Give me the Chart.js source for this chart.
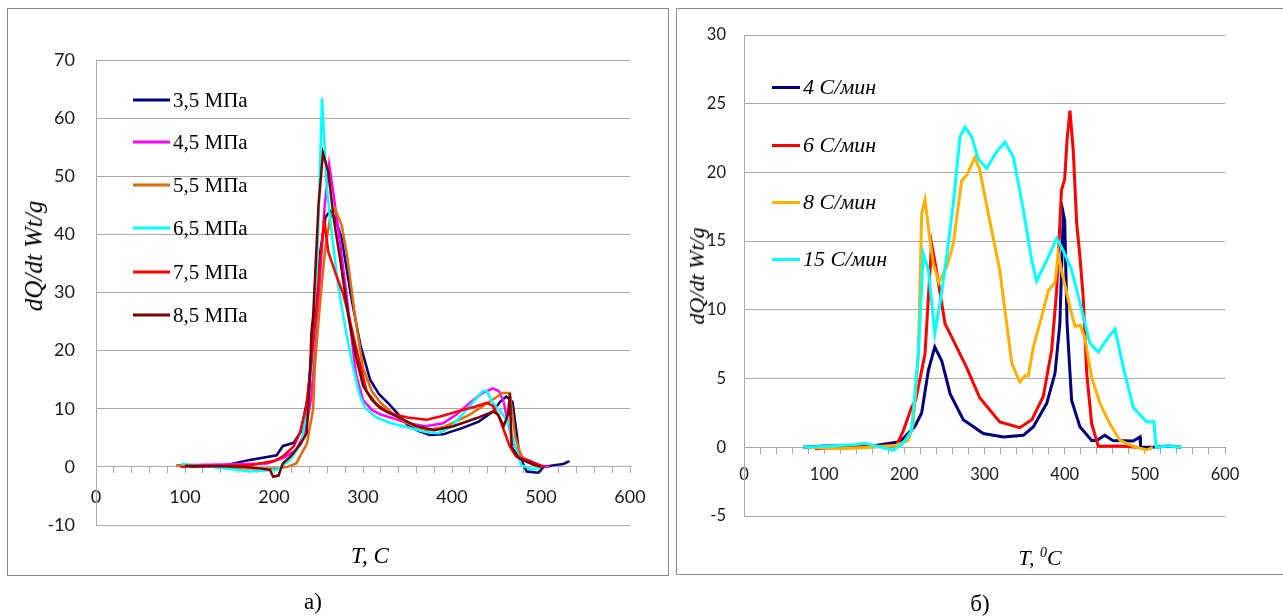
<!DOCTYPE html>
<html>
<head>
<meta charset="utf-8">
<script src="https://cdn.jsdelivr.net/npm/chart.js@4/dist/chart.umd.min.js"></script>
<style>
  body { margin: 0; background: #fff; width: 1283px; height: 616px; overflow: hidden; position: relative; font-family: "Liberation Serif", "Times New Roman", serif; color: #000; }
  .panel { position: absolute; border: 1.5px solid #8c8c8c; box-sizing: border-box; }
  #panelA { left: 7px; top: 8px; width: 662px; height: 568px; }
  #panelB { left: 676px; top: 8px; width: 620px; height: 567px; }
  .wrap { position: absolute; top: 0; }
  #wrapA { left: 0; width: 672px; height: 616px; }
  #wrapB { left: 672px; width: 611px; height: 616px; }
  .txt { position: absolute; white-space: nowrap; transform: translate(-50%, -50%); }
  .ytitle { transform: translate(-50%, -50%) rotate(-90deg); font-style: italic; }
  .leg { position: absolute; display: flex; align-items: center; white-space: nowrap; transform: translateY(-50%); }
  .leg span.ln { display: inline-block; height: 3px; margin-right: 3px; }
</style>
</head>
<body>
<div class="panel" id="panelA"></div>
<div class="panel" id="panelB"></div>
<div class="wrap" id="wrapA"><canvas id="chartA" width="672" height="616"></canvas></div>
<div class="wrap" id="wrapB"><canvas id="chartB" width="611" height="616"></canvas></div>

<div class="txt ytitle" style="left:34px; top:256px; font-size:25px;">dQ/dt Wt/g</div>
<div class="txt" style="left:370px; top:556px; font-size:23px; font-style:italic;">T, C</div>
<div class="txt ytitle" style="left:697px; top:276px; font-size:22px;">dQ/dt Wt/g</div>
<div class="txt" style="left:1040px; top:558px; font-size:22px; font-style:italic;">T, <sup style="font-size:14px;">0</sup>C</div>
<div class="txt" style="left:313px; top:602px; font-size:23px;">а)</div>
<div class="txt" style="left:980px; top:604px; font-size:23px;">б)</div>
<div id="legA"></div>
<div id="legB"></div>

<script>
// ---- chart a) : pressure series
const labelsA = ['3,5 МПа', '4,5 МПа', '5,5 МПа', '6,5 МПа', '7,5 МПа', '8,5 МПа'];
const colorsA = ['#000080', '#FF00FF', '#E36C09', '#00FFFF', '#FF0000', '#7F0000'];

const t35 = [105,143,173,203,210,222,230,238,245,252,258,263,268,276,287,297,308,318,328,340,350,362,375,390,412,430,446,454,461,468,476,484,497,503,515,525,532];
const q35 = [0,0.2,1.2,2,3.6,4.1,6,12,25,37,43,44,43,39.4,29,21,15,12.5,11,9,7.2,6.2,5.5,5.6,6.7,7.8,9.5,11.2,12.1,11.2,1.8,-0.8,-1,0,0.3,0.5,1];
const t45 = [92,143,192,210,225,235,242,249,254,257,262,267,274,282,292,300,310,320,335,350,370,390,405,420,435,446,453,458,463,469,480,500,510];
const q45 = [0.3,0.4,0.6,1.5,2.9,6,12,26,38,45,52,46.8,38.8,29,16,11.5,9.8,9,8.3,7.5,7,7.5,9,11,12.8,13.5,13,11.2,7.5,4,1.5,0.2,0];
const t55 = [90,130,170,200,215,225,237,244,246,250,254,258,263,268.5,276,282,291,300,310,320,335,350,370,390,400,420,440,457,465,471,478,490,500];
const q55 = [0.3,0,-0.3,-0.3,0,0.6,4,10,17.5,25,32,38,42.8,44.4,41.6,36.5,26,17,13,11,9,7.5,6.3,6.8,7.5,9,11,12.7,12.7,5.2,1.8,0.5,0];
const t65 = [96,130,173,203,218,231,237,242,247,251,254,259,265,272,280,289,296,302,315,330,353,370,385,400,420,435,439,446,456,462,470,478,490,500];
const q65 = [0.5,0,-0.8,-0.5,1.2,4.1,10,17,26,48,63.5,48.5,40,31.3,24,17,12.5,10.2,8.5,7.6,6.7,6,5.8,7,10.5,13.1,13,11,9.2,8,4,0.3,-0.5,0];
const t75 = [95,140,173,200,210,222,229,236,242,247,252,256.5,261,268.5,278,284,293,304,315,330,350,371.5,390,405,425,439,446,453,465,472,487,500,505];
const q75 = [0,0.2,0.3,1,1.8,3.5,5.8,10,18,26,36,42.5,37,33.6,29.6,26,20,13,10.8,9.2,8.5,8.1,8.8,9.5,10.3,11,10.5,8.5,3.5,1.8,1,0.2,0];
const t85 = [100,140,168,186,195.5,199,205,210,220,230,236.7,240,242,244,250,255,261,267,274,283.5,292,300,310,320,340,360,380,401.5,428,446,452,458,463,465,467,475,490,500];
const q85 = [0.2,0.1,0,-0.3,-0.5,-1.7,-1.5,0.6,2,4,5.8,14,23,26,45,54,50.8,42.8,36,26,19,14,11.5,10,8.5,7,6.3,7,8.4,9.5,9,7,9,12.7,3.5,1.5,0.5,0];

// ---- chart б) : heating rate series
const labelsB = ['4 С/мин', '6 С/мин', '8 С/мин', '15 С/мин'];
const colorsB = ['#000080', '#FF0000', '#FFB000', '#00FFFF'];

const t4 = [74,100,130,160,194.6,213,221.6,230,238,246.6,255,257,273.5,298.5,323.5,348.4,361,377.6,388,394,398.3,400,403,408.7,419,433.7,440,450,460,485.6,494,494.6,510,530,545];
const q4 = [0,0.1,0.1,0.1,0.4,1.5,2.5,5.6,7.3,6.3,4.4,3.9,2,1,0.75,0.87,1.5,3.2,5.4,9,17,16.5,9,3.4,1.5,0.5,0.5,0.87,0.5,0.45,0.75,0,0,0.1,0];
const t6 = [88.6,120,160,190,198.7,209,214,225.8,234,240,250.7,261,277.8,294,319,344,359,373.3,383.8,390,396,400,403,406.6,410.7,415,419,423,427.5,433.7,442,467,490];
const q6 = [-0.1,0,0.1,0.1,1.2,2.9,3.4,6.8,14.8,12.9,9,7.8,5.8,3.6,1.85,1.43,2,3.7,7.1,11.4,18.7,19.5,22.4,24.5,21.6,16.3,13.9,11,5.4,1.7,0.07,0.1,0];
const t8 = [80,120,160,190,205,211,217.5,221.6,225.8,230,236,243,252.8,261,271.5,277.8,288,294,304.7,319,327.7,334,344,350.5,354.6,361,371.3,379.6,388,392,396,406.6,412.9,419,425,433.7,444,456.5,469,485.6,502,510];
const q8 = [0,-0.1,0,0.15,0.5,1.7,6.8,17,18,16,13.4,12,13.1,14.8,19.4,19.8,21.1,20.2,17,12.9,9,6.1,4.75,5.2,5.2,7.3,9.5,11.4,12,14.1,12.9,10.2,8.8,8.9,8,5.1,3.2,1.7,0.5,0.07,-0.2,0];
const t15 = [74,110,140,150,186,198.7,209,217.5,223.6,230,238,244.5,252.8,261,269.4,275.7,284,292,302.7,315,325.6,336,348.4,358.9,365,377.6,390,398.3,408.7,419,431.6,442,454.4,462.8,473,485.6,502,511.4,514,530,546];
const q15 = [0,0.1,0.2,0.3,-0.2,0.3,1.2,6.8,14.1,12.9,8.3,10.5,13.9,17.7,22.6,23.3,22.6,21,20.3,21.5,22.2,21.1,17.3,13.6,12.1,13.6,15.2,14.3,12.9,10.5,7.55,6.94,8,8.6,5.85,2.9,1.85,1.85,0,0.1,0];

const xTicks = [0, 100, 200, 300, 400, 500, 600];
const yTicksA = [-10, 0, 10, 20, 30, 40, 50, 60, 70];
const yTicksB = [-5, 0, 5, 10, 15, 20, 25, 30];

const gridColor = '#a8a8a8';
const tickColor = '#1a1a1a';

function pts(t, q) {
  return t.map((x, i) => ({ x: x, y: q[i] }));
}

function buildDatasets(series, labels, colors, width) {
  return series.map((s, i) => ({
    label: labels[i],
    data: pts(s[0], s[1]),
    borderColor: colors[i],
    backgroundColor: colors[i],
    borderWidth: width,
    pointRadius: 0,
    tension: 0,
    fill: false,
    order: series.length - i  // last series on top, like the original
  }));
}

function makeChart(id, datasets, yTicks, yWidth, pad, fontSize, xPad, yPad, lineW) {
  return new Chart(document.getElementById(id), {
    type: 'line',
    data: { datasets: datasets },
    options: {
      responsive: false,
      animation: false,
      layout: { padding: pad },
      plugins: { legend: { display: false }, tooltip: { enabled: false } },
      scales: {
        x: {
          type: 'linear',
          min: xTicks[0],
          max: xTicks[xTicks.length - 1],
          position: { y: 0 },
          ticks: {
            stepSize: 20,
            autoSkip: false,
            maxRotation: 0,
            padding: xPad,
            color: tickColor,
            font: { family: 'Lato', size: fontSize },
            callback: v => xTicks.includes(v) ? String(v) : ''
          },
          grid: { drawOnChartArea: false, drawTicks: true, tickLength: 6, color: gridColor },
          border: { display: true, color: gridColor, width: 1 }
        },
        y: {
          min: yTicks[0],
          max: yTicks[yTicks.length - 1],
          afterBuildTicks: s => { s.ticks = yTicks.map(v => ({ value: v })); },
          afterFit: s => { s.width = yWidth; },
          ticks: {
            padding: yPad,
            color: tickColor,
            font: { family: 'Lato', size: fontSize }
          },
          grid: { color: gridColor, drawTicks: false, lineWidth: 1 },
          border: { display: true, color: gridColor, width: 1 }
        }
      }
    }
  });
}

const chartA = makeChart('chartA',
  buildDatasets([[t35, q35], [t45, q45], [t55, q55], [t65, q65], [t75, q75], [t85, q85]], labelsA, colorsA, 2.5),
  yTicksA, 96, { left: 0, top: 60, right: 42, bottom: 91 }, 18, 14, 21);

const chartB = makeChart('chartB',
  buildDatasets([[t4, q4], [t6, q6], [t8, q8], [t15, q15]], labelsB, colorsB, 3),
  yTicksB, 72, { left: 0, top: 35, right: 58, bottom: 100 }, 16.5, 11, 18);

// legends, built from the series names / colours
function buildLegend(holder, labels, colors, x, rows, lineLen, font) {
  const el = document.getElementById(holder);
  labels.forEach((lab, i) => {
    const d = document.createElement('div');
    d.className = 'leg';
    d.style.left = x + 'px';
    d.style.top = rows[i] + 'px';
    d.style.font = font;
    const ln = document.createElement('span');
    ln.className = 'ln';
    ln.style.width = lineLen + 'px';
    ln.style.background = colors[i];
    d.appendChild(ln);
    d.appendChild(document.createTextNode(lab));
    el.appendChild(d);
  });
}
buildLegend('legA', labelsA, colorsA, 133, [100, 142, 185, 228, 272, 315], 37, '21px "Liberation Serif", serif');
buildLegend('legB', labelsB, colorsB, 772, [87, 145, 202, 259], 28, 'italic 22px "Liberation Serif", serif');
</script>
</body>
</html>
